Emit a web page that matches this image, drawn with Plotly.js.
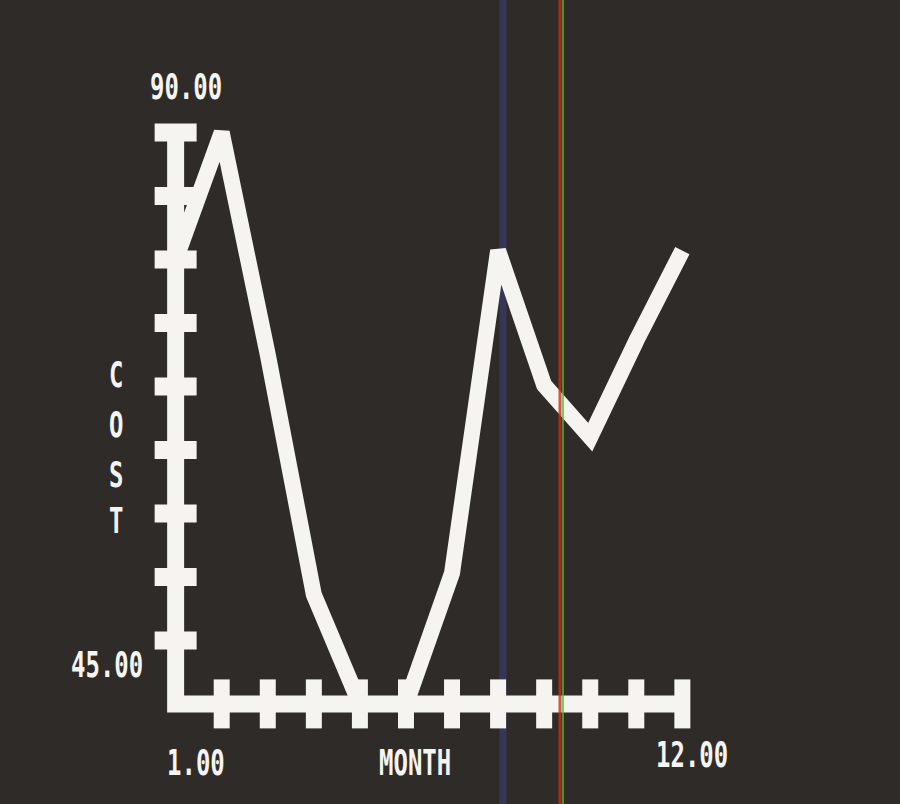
<!DOCTYPE html>
<html>
<head>
<meta charset="utf-8">
<script src="https://cdn.plot.ly/plotly-3.0.1.min.js"></script>
<style>
  html, body { margin: 0; padding: 0; background: #2f2b28; }
  #chart { width: 900px; height: 804px; }
</style>
</head>
<body>
<div id="chart"></div>
<script>
// ---- data ----
const months = [1, 2, 3, 4, 5, 6, 7, 8, 9, 10, 11, 12];
const cost = [80, 90, 72.5, 53.6, 45, 45, 55.3, 80.7, 70.1, 66.0, 73.6, 80.7];

// axis extents and tick marks
const yMin = 45, yMax = 90;
const xTickMonths = [2, 3, 4, 5, 6, 7, 8, 9, 10, 11, 12];
const yTickValues = [50, 55, 60, 65, 70, 75, 80, 85, 90];

// text labels
const yTopLabel = "90.00", yBottomLabel = "45.00";
const xFirstLabel = "1.00", xLastLabel = "12.00";
const xTitle = "MONTH";
const yTitleLetters = ["C", "O", "S", "T"];

const WHITE = "#f5f4f0";
const BG = "#2f2b28";
const FONT = { family: "DejaVu Sans Mono, Liberation Mono, monospace", size: 24, color: WHITE, weight: 700 };

const xFirst = months[0], xLast = months[months.length - 1];

const traces = [
  // axis bars
  { x: [xFirst, xFirst, xLast], y: [yMax, yMin, yMin], mode: "lines",
    line: { color: WHITE, width: 17 }, hoverinfo: "skip", showlegend: false },
  // x tick stubs (crossing the axis)
  { x: xTickMonths, y: xTickMonths.map(() => yMin), mode: "markers",
    marker: { symbol: "line-ns-open", size: 35, color: WHITE, line: { width: 16, color: WHITE } },
    hoverinfo: "skip", showlegend: false, cliponaxis: false },
  // y tick stubs (crossing the axis)
  { x: yTickValues.map(() => xFirst), y: yTickValues, mode: "markers",
    marker: { symbol: "line-ew-open", size: 30, color: WHITE, line: { width: 18, color: WHITE } },
    hoverinfo: "skip", showlegend: false, cliponaxis: false },
  // the cost line
  { x: months, y: cost, mode: "lines", name: "COST",
    line: { color: WHITE, width: 16 }, showlegend: false }
];

const ann = (text, x, y) => ({ text, x, y, xref: "paper", yref: "paper",
  xanchor: "center", yanchor: "middle", showarrow: false, font: FONT });

const annotations = [
  ann(yTopLabel, 0.0676, 1.0015),
  ann(yBottomLabel, -0.073, 0.1177),
  ann(xFirstLabel, 0.0854, -0.0321),
  ann(xTitle, 0.4751, -0.0321),
  ann(xLastLabel, 0.968, -0.0199)
];
const letterY = [0.5612, 0.4847, 0.4083, 0.3379];
yTitleLetters.forEach((c, i) => annotations.push(ann(c, -0.0569, letterY[i])));

const layout = {
  width: 900, height: 804,
  margin: { l: 148, r: 190, t: 88, b: 62 },
  paper_bgcolor: BG, plot_bgcolor: BG,
  xaxis: { range: [0.4, 12.6], visible: false, fixedrange: true },
  yaxis: { range: [42, 93.5], visible: false, fixedrange: true },
  annotations,
  shapes: [
    { type: "line", xref: "paper", yref: "paper", x0: 0.6317, x1: 0.6317, y0: -0.1, y1: 1.14,
      line: { color: "rgba(70,70,150,0.42)", width: 7 }, layer: "below" },
    { type: "line", xref: "paper", yref: "paper", x0: 0.7331, x1: 0.7331, y0: -0.1, y1: 1.14,
      line: { color: "rgba(210,40,30,0.8)", width: 3 }, layer: "above" },
    { type: "line", xref: "paper", yref: "paper", x0: 0.7385, x1: 0.7385, y0: -0.1, y1: 1.14,
      line: { color: "rgba(60,200,40,0.75)", width: 2 }, layer: "above" }
  ],
  showlegend: false
};

Plotly.newPlot("chart", traces, layout, { displayModeBar: false, staticPlot: true }).then(() => {
  // stretch the label text vertically to mimic the tall terminal font
  document.querySelectorAll("#chart .annotation-text").forEach(t => {
    const b = t.getBBox();
    const cx = b.x + b.width / 2, cy = b.y + b.height / 2;
    t.setAttribute("transform", `translate(${cx},${cy}) scale(1,1.5) translate(${-cx},${-cy})`);
  });
});
</script>
</body>
</html>
